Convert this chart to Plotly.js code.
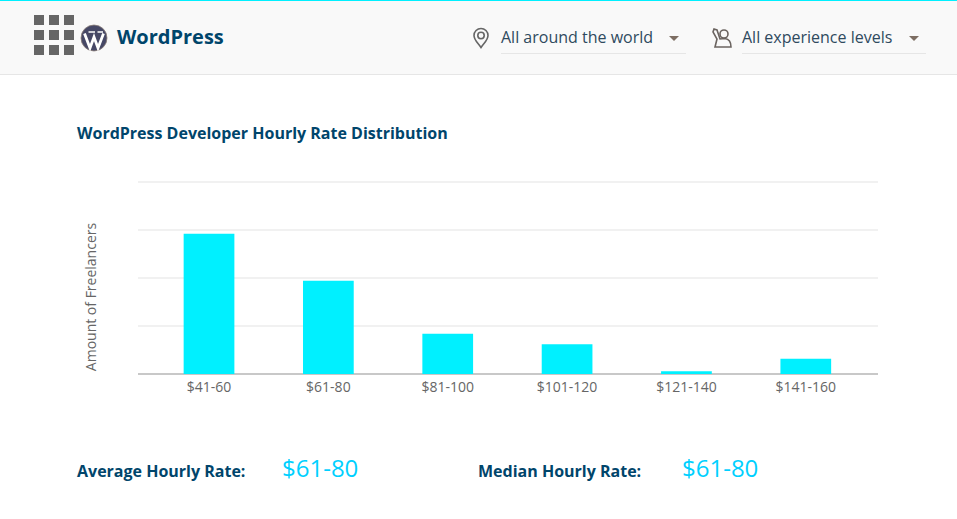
<!DOCTYPE html>
<html>
<head>
<meta charset="utf-8">
<script src="https://cdn.plot.ly/plotly-3.0.1.min.js"></script>
<style>
html, body { margin: 0; padding: 0; background: #fff; overflow: hidden; }
body { width: 957px; height: 519px; position: relative; font-family: "Open Sans", sans-serif; }
#header { position: absolute; left: 0; top: 0; width: 957px; height: 75px; box-sizing: border-box; background: #f9f9f9;
  border-top: 1px solid #00f0ff; border-bottom: 1px solid #e6e6e6; }
.abs { position: absolute; white-space: nowrap; }
.sq { position: absolute; width: 10px; height: 10px; background: #666; }
.drop { color: #2f4a5e; font-size: 16px; line-height: 22px; }
.line { position: absolute; height: 1px; background: #e6e6e6; }
.caret { position: absolute; width: 0; height: 0; border-left: 5px solid transparent; border-right: 5px solid transparent; border-top: 5px solid #7d6e63; }
.head { color: #00456b; font-weight: 700; }
.rate { color: #00d0ff; font-size: 24px; line-height: 32px; }
#myDiv { position: absolute; left: 0; top: 0; width: 957px; height: 519px; }
</style>
</head>
<body>
<div id="myDiv"></div>
<div id="header"></div>
<div class="sq" style="left:34px;top:15px"></div><div class="sq" style="left:49px;top:15px"></div><div class="sq" style="left:64px;top:15px"></div>
<div class="sq" style="left:34px;top:30px"></div><div class="sq" style="left:49px;top:30px"></div><div class="sq" style="left:64px;top:30px"></div>
<div class="sq" style="left:34px;top:45px"></div><div class="sq" style="left:49px;top:45px"></div><div class="sq" style="left:64px;top:45px"></div>
<svg class="abs" style="left:80px;top:24px" width="28" height="28" viewBox="0 0 28 28">
  <circle cx="14" cy="14" r="13" fill="#464866" stroke="#8c7f78" stroke-width="0.8"/>
  <path d="M4.5 9.5 L10 24 L14 13 L18 24 L23.5 9.5" fill="none" stroke="#fff" stroke-width="2.8"/>
  <path d="M8.5 8 L15 8 M17.5 8 L23 8" stroke="#fff" stroke-width="1.4"/>
</svg>
<div class="abs head" style="left:117px;top:23px;font-size:20px;line-height:27px">WordPress</div>

<svg class="abs" style="left:472px;top:27px" width="18" height="22" viewBox="0 0 18 22">
  <path d="M9 20.5 C6 16 2 13 2 8.5 A7 7 0 0 1 16 8.5 C16 13 12 16 9 20.5 Z" fill="none" stroke="#666" stroke-width="1.6"/>
  <circle cx="9" cy="8.5" r="3.2" fill="none" stroke="#666" stroke-width="1.6"/>
</svg>
<div class="abs drop" style="left:501px;top:26px">All around the world</div>
<div class="caret" style="left:669px;top:36px"></div>
<div class="line" style="left:501px;top:53px;width:185px"></div>

<svg class="abs" style="left:711px;top:27px" width="22" height="22" viewBox="0 0 22 22">
  <circle cx="13" cy="7" r="4" fill="none" stroke="#6b6460" stroke-width="1.6"/>
  <path d="M3 2 L2 5 L6 12 L4 20 L20 20 C20 15 18 12 14 11.5 L9 12 L6 3 Z" fill="none" stroke="#6b6460" stroke-width="1.6"/>
</svg>
<div class="abs drop" style="left:742px;top:26px">All experience levels</div>
<div class="caret" style="left:909px;top:36px"></div>
<div class="line" style="left:742px;top:53px;width:184px"></div>

<div class="abs head" style="left:77px;top:122px;font-size:16px;line-height:22px">WordPress Developer Hourly Rate Distribution</div>
<div class="abs head" style="left:77px;top:460px;font-size:16px;line-height:22px">Average Hourly Rate:</div>
<div class="abs rate" style="left:282px;top:452px">$61-80</div>
<div class="abs head" style="left:478px;top:460px;font-size:16px;line-height:22px">Median Hourly Rate:</div>
<div class="abs rate" style="left:682px;top:452px">$61-80</div>

<script>
var rate_labels = ['$41-60', '$61-80', '$81-100', '$101-120', '$121-140', '$141-160'];
var freelancers = [73, 48.5, 21, 15.5, 1.5, 8];
var grid_ticks = [25, 50, 75, 100];

var trace1 = {
    x: [0, 1, 2, 3, 4, 5],
    y: freelancers,
    type: 'bar',
    width: 0.425,
    marker: { color: '#00f0ff' },
    hoverinfo: 'skip'
};

var layout = {
    width: 957,
    height: 519,
    margin: { l: 138, r: 79, t: 177, b: 143, pad: 0 },
    paper_bgcolor: 'rgba(0,0,0,0)',
    plot_bgcolor: 'rgba(0,0,0,0)',
    showlegend: false,
    font: { family: 'Open Sans', color: '#666666' },
    xaxis: {
        range: [-0.595, 5.605],
        tickmode: 'array',
        tickvals: [0, 1, 2, 3, 4, 5],
        ticktext: rate_labels,
        tickfont: { family: 'Open Sans', size: 14, color: '#666666' },
        ticklabelstandoff: 1,
        ticks: '',
        showgrid: false,
        zeroline: false,
        showline: false
    },
    yaxis: {
        range: [-1, 102.5],
        tickmode: 'array',
        tickvals: grid_ticks,
        showticklabels: false,
        ticks: '',
        gridcolor: '#f1f1f1',
        gridwidth: 2,
        zeroline: true,
        zerolinecolor: '#c8c8c8',
        zerolinewidth: 2
    },
    annotations: [{
        text: 'Amount of Freelancers',
        xref: 'paper',
        yref: 'y',
        x: 0,
        y: 40,
        xanchor: 'center',
        xshift: -48,
        showarrow: false,
        textangle: -90,
        font: { family: 'Open Sans', size: 14, color: '#666666' }
    }]
};

Plotly.newPlot('myDiv', [trace1], layout, { displayModeBar: false, staticPlot: true });
</script>
</body>
</html>
